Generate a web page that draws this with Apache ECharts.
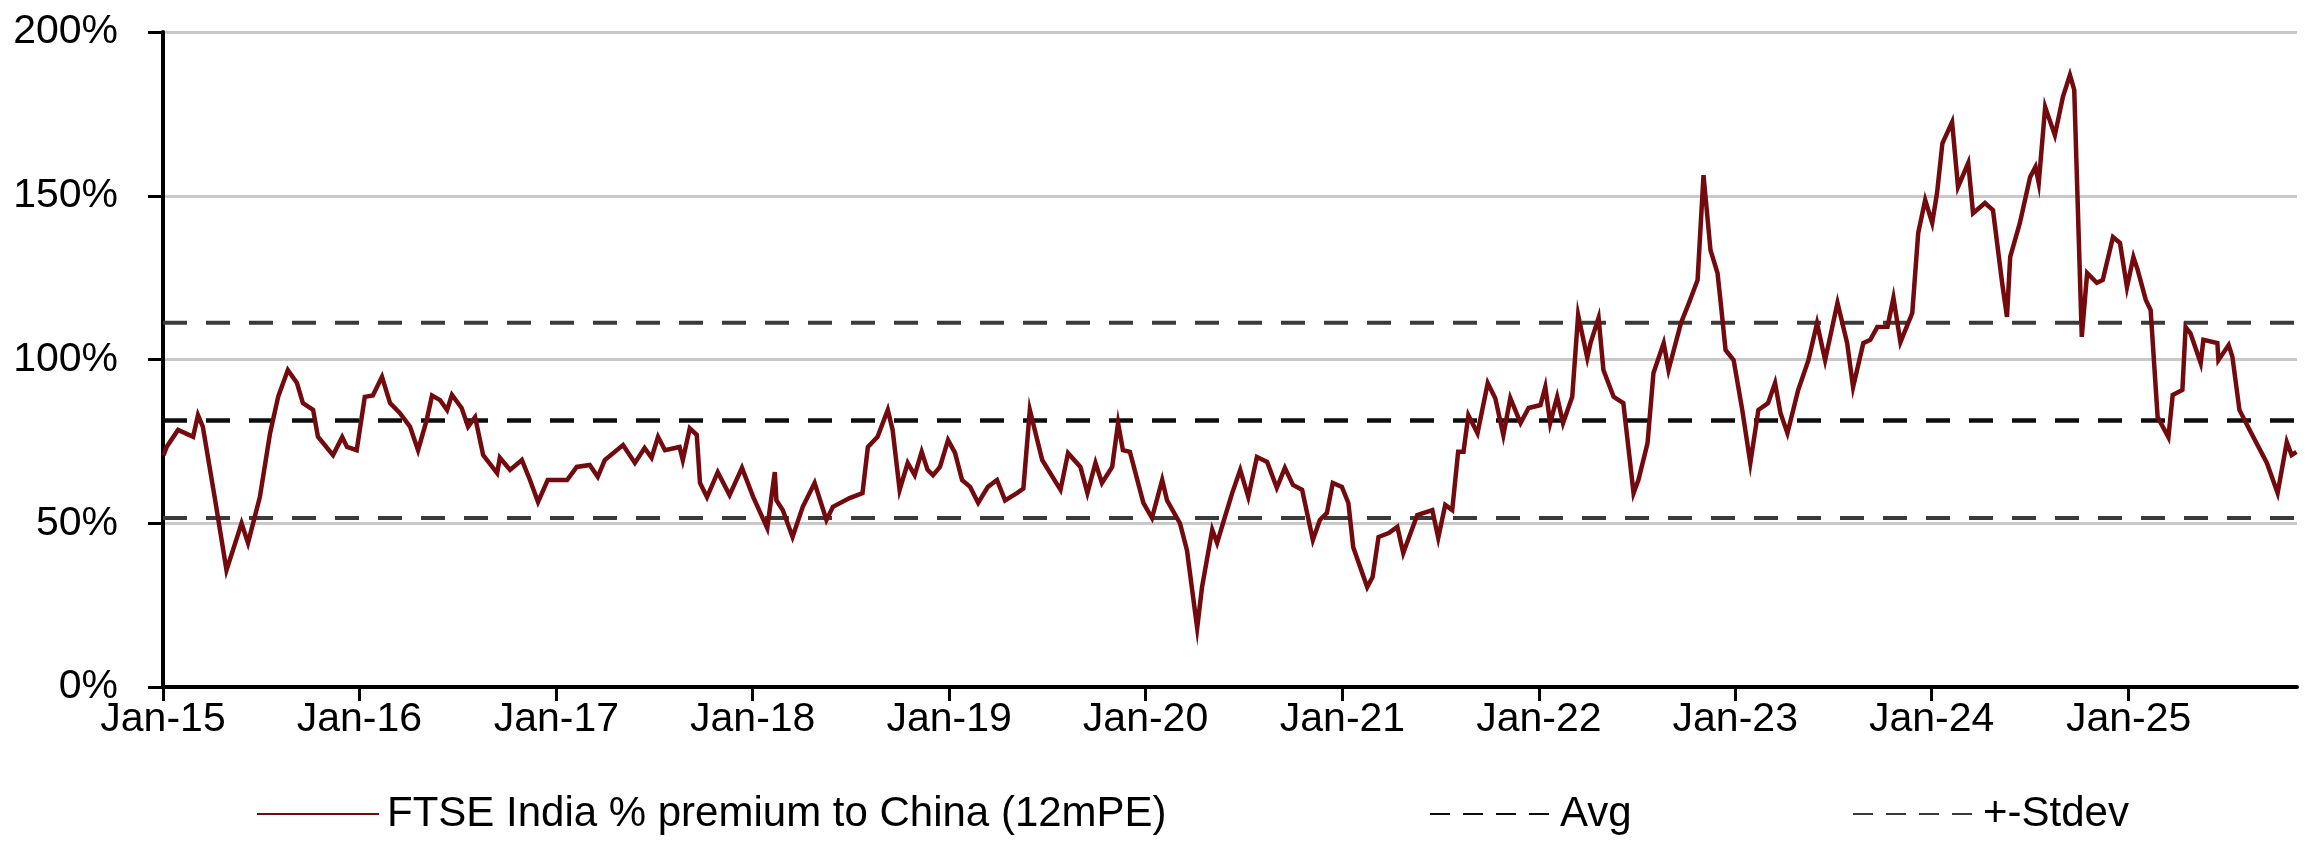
<!DOCTYPE html>
<html>
<head>
<meta charset="utf-8">
<title>FTSE India % premium to China (12mPE)</title>
<script src="https://cdn.jsdelivr.net/npm/echarts@6/dist/echarts.min.js"></script>
<style>
  html, body { margin: 0; padding: 0; background: #ffffff; }
  #chart { width: 2310px; height: 856px; }
</style>
</head>
<body>
<div id="chart"></div>
<script>
// Observation dates and FTSE India 12m forward P/E premium over China (%)
const obsDates = [
  '2015-01-02','2015-01-08','2015-01-29','2015-02-26','2015-03-07','2015-03-16','2015-04-08','2015-04-29',
  '2015-05-27','2015-06-08','2015-06-30','2015-07-19','2015-08-03','2015-08-21','2015-09-07','2015-09-18',
  '2015-10-07','2015-10-16','2015-11-13','2015-11-30','2015-12-09','2015-12-27',
  '2016-01-11','2016-01-26','2016-02-12','2016-02-27','2016-03-16','2016-04-04','2016-04-19','2016-05-05',
  '2016-05-15','2016-05-30','2016-06-12','2016-06-21','2016-07-09','2016-07-21','2016-08-03','2016-08-18',
  '2016-09-13','2016-09-18','2016-10-07','2016-10-29','2016-11-13','2016-11-28','2016-12-16',
  '2017-01-21','2017-02-08','2017-03-04','2017-03-19','2017-04-01','2017-05-05','2017-05-27','2017-06-14',
  '2017-06-27','2017-07-09','2017-07-22','2017-08-18','2017-08-24','2017-09-06','2017-09-19','2017-09-25',
  '2017-10-08','2017-10-28','2017-11-19','2017-12-12',
  '2018-01-02','2018-01-28','2018-02-11','2018-02-14','2018-02-26','2018-03-16','2018-04-04','2018-04-26',
  '2018-05-18','2018-05-30','2018-06-30','2018-07-24','2018-08-03','2018-08-21','2018-09-09','2018-09-18',
  '2018-10-01','2018-10-16','2018-10-29','2018-11-11','2018-11-22','2018-12-02','2018-12-15','2018-12-30',
  '2019-01-12','2019-01-25','2019-02-09','2019-02-24','2019-03-14','2019-03-31','2019-04-15','2019-05-07',
  '2019-05-19','2019-05-31','2019-06-23','2019-07-27','2019-08-10','2019-09-02','2019-09-15','2019-09-30',
  '2019-10-12','2019-10-31','2019-11-11','2019-11-20','2019-12-03','2019-12-28',
  '2020-01-13','2020-02-01','2020-02-10','2020-03-05','2020-03-18','2020-04-06','2020-04-15','2020-05-04',
  '2020-05-13','2020-05-24','2020-06-10','2020-06-25','2020-07-10','2020-07-26','2020-08-14','2020-09-01',
  '2020-09-16','2020-10-01','2020-10-18','2020-11-07','2020-11-20','2020-12-03','2020-12-14','2020-12-31',
  '2021-01-12','2021-01-21','2021-02-16','2021-02-26','2021-03-09','2021-03-28','2021-04-13','2021-04-24',
  '2021-05-20','2021-06-17','2021-06-28','2021-07-11','2021-07-24','2021-08-04','2021-08-14','2021-08-23',
  '2021-09-09','2021-09-28','2021-10-12','2021-10-27','2021-11-09','2021-11-28','2021-12-13',
  '2022-01-04','2022-01-13','2022-01-22','2022-02-04','2022-02-15','2022-03-04','2022-03-15','2022-04-01',
  '2022-04-07','2022-04-22','2022-05-01','2022-05-20','2022-06-07','2022-06-26','2022-07-05','2022-07-22',
  '2022-08-02','2022-08-21','2022-08-30','2022-09-22','2022-10-07','2022-10-23','2022-11-03','2022-11-16',
  '2022-11-29','2022-12-05','2022-12-14','2022-12-29',
  '2023-01-14','2023-01-29','2023-02-13','2023-03-03','2023-03-16','2023-03-26','2023-04-08','2023-04-28',
  '2023-05-17','2023-06-02','2023-06-17','2023-07-10','2023-07-28','2023-08-08','2023-08-27','2023-09-09',
  '2023-09-22','2023-10-11','2023-10-22','2023-11-04','2023-11-26','2023-12-07','2023-12-20',
  '2024-01-02','2024-01-11','2024-01-21','2024-02-08','2024-02-19','2024-03-09','2024-03-18','2024-04-09',
  '2024-04-24','2024-05-11','2024-05-20','2024-05-26','2024-06-13','2024-07-02','2024-07-12','2024-07-18',
  '2024-07-30','2024-08-17','2024-09-01','2024-09-14','2024-09-22','2024-10-06','2024-10-16','2024-11-03',
  '2024-11-14','2024-12-03','2024-12-16','2024-12-29',
  '2025-01-10','2025-01-18','2025-02-02','2025-02-11','2025-02-24','2025-03-16','2025-03-24','2025-04-11',
  '2025-04-17','2025-04-26','2025-05-15','2025-05-20','2025-06-15','2025-06-17','2025-07-06','2025-07-13',
  '2025-07-26','2025-08-14','2025-09-15','2025-10-05','2025-10-22','2025-10-31','2025-11-09'
];

const premiumPct = [
  70.8, 73.4, 78.5, 76.4, 83.0, 79.5, 57.0, 35.7,
  50.0, 44.0, 58.0, 77.5, 88.6, 96.8, 92.8, 86.7,
  84.6, 76.4, 70.8, 76.3, 73.3, 72.3,
  88.6, 89.0, 94.7, 86.7, 83.7, 79.5, 72.3, 81.5,
  89.0, 87.6, 84.6, 89.2, 85.2, 79.5, 82.4, 70.8,
  65.3, 70.0, 66.3, 69.3, 63.2, 56.5, 63.2,
  63.2, 67.2, 67.8, 64.2, 69.3, 73.9, 68.4, 73.0,
  70.0, 76.4, 72.3, 73.3, 69.3, 79.0, 77.0, 62.3,
  58.0, 65.6, 58.6, 66.9,
  58.0, 48.5, 65.6, 57.0, 54.0, 45.8, 55.0, 62.3,
  51.0, 55.0, 57.7, 59.2, 73.3, 76.4, 84.6, 78.5,
  60.2, 68.4, 64.7, 71.8, 66.3, 64.7, 67.2, 75.4,
  71.5, 63.2, 61.1, 56.2, 61.1, 63.2, 57.0, 59.2,
  60.6, 84.6, 69.3, 60.2, 71.4, 67.2, 59.2, 68.4,
  62.3, 67.2, 80.6, 72.3, 71.8, 56.2,
  51.6, 63.2, 57.0, 50.0, 41.8, 18.0, 30.5, 48.0,
  44.0, 50.0, 59.2, 66.3, 58.0, 70.2, 68.7, 60.8,
  66.9, 61.7, 60.2, 44.9, 51.0, 53.1, 62.3, 61.1,
  56.2, 42.7, 30.5, 33.6, 45.8, 47.0, 48.9, 40.9,
  52.5, 54.0, 45.5, 55.6, 54.0, 71.8, 71.8, 83.0,
  77.5, 92.8, 88.2, 76.9, 88.2, 80.6, 85.2,
  86.1, 91.6, 80.6, 88.6, 80.6, 88.6, 113.6, 100.5,
  105.0, 112.7, 96.8, 88.6, 86.7, 59.2, 63.2, 74.5,
  95.9, 105.0, 96.8, 111.1, 117.3, 124.3, 156.3, 133.4,
  126.4, 117.3, 102.9, 99.8,
  84.6, 68.4, 84.6, 86.7, 92.8, 83.7, 77.5, 90.7,
  99.8, 111.1, 99.8, 117.3, 105.0, 91.6, 105.0, 106.0,
  109.9, 110.0, 118.8, 105.3, 114.2, 138.6, 148.7,
  141.7, 150.8, 166.0, 172.5, 152.7, 160.0, 144.7, 147.8,
  145.6, 123.4, 113.0, 131.3, 141.7, 155.7, 158.8, 153.9,
  177.1, 168.5, 180.2, 186.9, 182.3, 106.9, 126.4, 123.4,
  124.3, 137.4, 135.6, 122.1,
  131.3, 127.3, 118.2, 115.1, 82.4, 76.3, 89.2, 90.7,
  109.9, 108.0, 98.9, 106.0, 105.0, 99.8, 104.4, 100.8,
  84.6, 78.5, 68.4, 59.2, 74.8, 70.8, 71.8
];

// Long-run average premium and one standard deviation (%)
const avgPremium = 81.4;
const stdevPremium = 29.8;

// Horizontal extent of the chart and value axis ticks
const dateRange = ['2015-01-01', '2025-11-10'];
const valueTicks = [0, 50, 100, 150, 200];

const seriesNames = ['FTSE India % premium to China (12mPE)', 'Avg', '+-Stdev'];

const FONT = "'Liberation Sans', Arial, Helvetica, sans-serif";
const YEAR_MS = 365.25 * 24 * 3600 * 1000;

const premiumData = obsDates.map((d, i) => [d, premiumPct[i]]);
const flatLine = v => dateRange.map(d => [d, v]);

const plotDash = [24, 19];
const legendDash = [20, 13];

// Shared legend look: line sample only, no centre marker
function legendBlock(name, left, dash) {
  return {
    data: [name],
    left: left,
    top: 788,
    itemWidth: 122,
    itemHeight: 14,
    selectedMode: false,
    itemStyle: { color: 'rgba(0,0,0,0)', borderWidth: 0 },
    lineStyle: dash ? { type: dash } : {},
    textStyle: { fontSize: 42, color: '#000', fontFamily: FONT, padding: [0, 0, 0, 3] }
  };
}

const chart = echarts.init(document.getElementById('chart'), null, { renderer: 'canvas' });

chart.setOption({
  backgroundColor: '#ffffff',
  animation: false,
  textStyle: { fontFamily: FONT },
  grid: { left: 163, right: 13, top: 32, bottom: 169, containLabel: false },
  legend: [
    legendBlock(seriesNames[0], 251, null),
    legendBlock(seriesNames[1], 1424, legendDash),
    legendBlock(seriesNames[2], 1847, legendDash)
  ],
  xAxis: {
    type: 'time',
    min: dateRange[0],
    max: dateRange[1],
    minInterval: YEAR_MS,
    maxInterval: YEAR_MS,
    axisLine: { show: true, lineStyle: { color: '#000', width: 4 } },
    axisTick: { show: true, length: 14, lineStyle: { color: '#000', width: 3 } },
    splitLine: { show: false },
    axisLabel: {
      show: true,
      margin: 12,
      fontSize: 41,
      color: '#000',
      fontFamily: FONT,
      showMaxLabel: false,
      formatter: function (value) {
        const y = new Date(value).getFullYear();
        return 'Jan-' + String(y).slice(2);
      }
    }
  },
  yAxis: {
    type: 'value',
    min: valueTicks[0],
    max: valueTicks[valueTicks.length - 1],
    interval: valueTicks[1] - valueTicks[0],
    axisLine: { show: true, lineStyle: { color: '#000', width: 4 } },
    axisTick: { show: true, length: 15, lineStyle: { color: '#000', width: 3 } },
    splitLine: { show: true, lineStyle: { color: '#c9c9c9', width: 3 } },
    axisLabel: {
      margin: 45,
      fontSize: 41,
      color: '#000',
      fontFamily: FONT,
      formatter: '{value}%'
    }
  },
  series: [
    {
      name: seriesNames[1],
      type: 'line',
      data: flatLine(avgPremium),
      symbol: 'none',
      z: 2,
      color: '#0d0d0d',
      lineStyle: { color: '#0d0d0d', width: 4.5, type: plotDash }
    },
    {
      name: seriesNames[2],
      type: 'line',
      data: flatLine(avgPremium + stdevPremium),
      symbol: 'none',
      z: 2,
      color: '#3a3a3a',
      lineStyle: { color: '#3a3a3a', width: 4, type: plotDash }
    },
    {
      name: seriesNames[2],
      type: 'line',
      data: flatLine(avgPremium - stdevPremium),
      symbol: 'none',
      z: 2,
      color: '#3a3a3a',
      lineStyle: { color: '#3a3a3a', width: 4, type: plotDash }
    },
    {
      name: seriesNames[0],
      type: 'line',
      data: premiumData,
      symbol: 'none',
      z: 3,
      color: '#720a0e',
      lineStyle: { color: '#720a0e', width: 4.5, join: 'miter' }
    }
  ]
});
</script>
</body>
</html>
